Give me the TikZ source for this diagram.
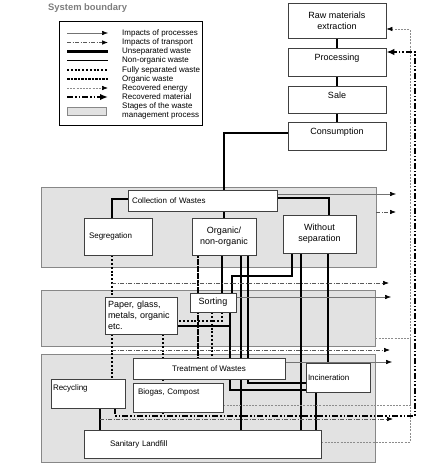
\documentclass[tikz,border=0pt]{standalone}
\usepackage{fontspec}
\setmainfont{Liberation Sans}
\usetikzlibrary{arrows.meta,positioning,calc}
\definecolor{stagefill}{RGB}{226,226,226}
\definecolor{stageline}{RGB}{135,135,135}
\definecolor{titlegray}{RGB}{125,125,125}
\pgfdeclarelayer{stagelayer}
\pgfdeclarelayer{flowlayer}
\pgfsetlayers{stagelayer,flowlayer,main}

\tikzset{
    box/.style={draw=black!75, line width=0.8pt, fill=white, inner sep=2pt, align=center, font=\fontsize{8}{9.5}\selectfont},
    leftbox/.style={box, align=left},
    nine/.style={font=\fontsize{9}{11}\selectfont},
    raised/.style={text height=6.5pt, text depth=9pt},
    toptext/.style={text height=5.8pt, text depth=11pt},
    stagebox/.style={draw=stageline, line width=0.7pt, fill=stagefill, inner sep=0pt},
    legendtext/.style={anchor=west, inner sep=0pt, align=left, font=\fontsize{8}{8.5}\selectfont},
    unsep/.style={line width=2.6pt},
    nonorg/.style={line width=1.9pt},
    fullsep/.style={line width=2pt, dash pattern=on 2pt off 1.8pt},
    organic/.style={line width=2pt, dash pattern=on 2.6pt off 0.9pt},
    procimp/.style={line width=0.5pt, draw=black!55, -{Latex[length=6pt,width=4.5pt,color=black]}},
    transimp/.style={line width=0.6pt, draw=black!65, dash pattern=on 4pt off 1.5pt on 1pt off 1.5pt, -{Latex[length=6pt,width=4.5pt,color=black]}},
    energyline/.style={line width=0.6pt, draw=black!45, dash pattern=on 2pt off 1.2pt},
    energy/.style={energyline, -{Latex[length=6pt,width=4.5pt,color=black]}},
    material/.style={line width=1.8pt, dash pattern=on 6pt off 2pt on 1.5pt off 2pt on 1.5pt off 2pt, -{Latex[length=8pt,width=6.5pt]}},
}

\begin{document}
\begin{tikzpicture}[x=1pt, y=-1pt]
    \useasboundingbox (0,0) rectangle (426,468);

    % Title and key
    \node[anchor=west, inner sep=0pt, text=titlegray, font=\fontsize{9.4}{11}\selectfont\bfseries] (title) at (48,8) {System boundary};
    \node[draw, line width=0.7pt, fill=white, minimum width=143pt, minimum height=104pt] (legend) at (130.5,73) {};
    \foreach \i/\y/\sty/\txt in {1/33/procimp/Impacts of processes, 2/42.5/transimp/Impacts of transport, 3/51.5/unsep/Unseparated waste, 4/60.5/nonorg/Non-organic waste, 5/70/fullsep/Fully separated waste, 6/79/organic/Organic waste, 7/88/energy/Recovered energy, 8/97/material/Recovered material} {
        \draw[\sty] (67,\y) -- (108,\y);
        \node[legendtext] (key\i) at (122,\y) {\txt};
    }
    \draw[stagebox] (67,107) rectangle (106,115);
    \node[legendtext] (key9) at (122,111) {Stages of the waste\\management process};

    % Stages of the waste management process
    \begin{pgfonlayer}{stagelayer}
        \node[stagebox, minimum width=335pt, minimum height=80pt] (stage1) at (208.5,227) {};
        \node[stagebox, minimum width=334pt, minimum height=56pt] (stage2) at (208,318) {};
        \node[stagebox, minimum width=334pt, minimum height=108pt] (stage3) at (208,408) {};
    \end{pgfonlayer}

    % Product chain
    \node[box, nine, minimum width=98pt, minimum height=35pt] (raw) at (337,20.5) {Raw materials\\extraction};
    \node[box, nine, raised, minimum width=98pt, minimum height=28pt] (proc) at (337,62) {Processing};
    \node[box, nine, raised, minimum width=98pt, minimum height=27pt] (sale) at (337,99.5) {Sale};
    \node[box, nine, raised, minimum width=98pt, minimum height=28pt] (cons) at (337,136) {Consumption};

    % Stage 1
    \node[leftbox, inner xsep=4pt, text width=141pt, minimum height=21pt] (coll) at (202.5,200.5) {Collection of Wastes};
    \node[leftbox, inner xsep=5pt, text width=58pt, minimum height=37pt] (seg) at (118,236.5) {Segregation};
    \node[box, nine, minimum width=64pt, minimum height=37pt] (org) at (224,236.5) {Organic/\\non-organic};
    \node[box, nine, minimum width=73pt, minimum height=38pt] (wsep) at (319.5,234) {Without\\separation};

    % Stage 2
    \node[leftbox, nine, inner xsep=3pt, text width=66pt, minimum height=37pt] (paper) at (141,315.5) {Paper, glass,\\metals, organic\\etc.};
    \node[box, nine, minimum width=46pt, minimum height=19pt] (sort) at (213,302.5) {Sorting};

    % Stage 3
    \node[box, minimum width=152pt, minimum height=21pt] (treat) at (209,368.5) {Treatment of Wastes};
    \node[leftbox, toptext, inner xsep=2pt, text width=70pt, minimum height=29pt] (recyc) at (88,393.5) {Recycling};
    \node[leftbox, toptext, inner xsep=5pt, text width=80pt, minimum height=29pt] (bio) at (178,397.5) {Biogas, Compost};
    \node[leftbox, inner xsep=2pt, text width=60pt, minimum height=29pt] (incin) at (338,377.5) {Incineration};
    \node[leftbox, inner xsep=26pt, text width=185pt, minimum height=28pt] (land) at (202.5,444) {Sanitary Landfill};

    % Free ends and bends
    \coordinate (imp1) at (396,194);
    \coordinate (tr1) at (396,212);
    \coordinate (tr2) at (389,283);
    \coordinate (imp2) at (391,297);
    \coordinate (tr3) at (390,350);
    \coordinate (imp3) at (392,362);
    \coordinate (tr4) at (393,419);
    \coordinate (enbase) at (410,405);
    \coordinate (matbase) at (415,416);
    \coordinate (wbend) at (232,276);

    \begin{pgfonlayer}{flowlayer}
        % Unseparated waste
        \foreach \a/\b in {raw/proc, proc/sale, sale/cons}
            \draw[unsep] (\a.south) -- (\b.north);
        \draw[unsep] ([yshift=3pt]cons.west) -| (org.north);
        \draw[unsep] ([yshift=1.5pt]coll.west) -| ([xshift=-6pt]seg.north);
        \draw[unsep] ([yshift=2.5pt]coll.east) -| ([xshift=9.5pt]wsep.north);
        \draw[unsep] ([xshift=-27.5pt]wsep.south) |- (wbend) -- (wbend |- sort.north);
        \draw[unsep] ([xshift=-18.5pt]wsep.south) -- ([xshift=-18.5pt]wsep.south |- land.north);
        \draw[unsep] ([xshift=8.5pt]wsep.south) -- ([xshift=8.5pt]wsep.south |- incin.north);

        % Non-organic waste
        \draw[nonorg] ([xshift=-2pt]org.south) -- ([xshift=-2pt]org.south |- sort.north);
        \draw[nonorg] ([xshift=17pt]org.south) -- ([xshift=17pt]org.south |- land.north);
        \draw[nonorg] ([xshift=24pt]org.south) |- ([yshift=-5.5pt]incin.west);
        \draw[nonorg] ([xshift=17pt]sort.south) |- ([yshift=-12.5pt]incin.west);
        \draw[nonorg] ([yshift=-10.5pt]paper.east) -| ([xshift=17pt]sort.south);
        \draw[nonorg] ([xshift=-22pt]incin.south) -- ([xshift=-22pt]incin.south |- land.north);
        \draw[nonorg] ([xshift=12pt]recyc.south) -- ([xshift=12pt]recyc.south |- land.north);

        % Fully separated and organic waste
        \draw[fullsep] ([xshift=-6pt]seg.south) -- ([xshift=-6pt]seg.south |- paper.north);
        \draw[fullsep] ([xshift=-29pt]paper.south) -- ([xshift=-29pt]paper.south |- recyc.north);
        \draw[fullsep] ([xshift=22pt]paper.south) -- ([xshift=22pt]paper.south |- treat.north);
        \draw[fullsep] ([xshift=-15pt]bio.north |- treat.south) -- ([xshift=-15pt]bio.north);
        \draw[fullsep] ([xshift=-15pt]bio.south) -- ([xshift=-15pt]bio.south |- matbase);
        \draw[fullsep] ([xshift=9pt]sort.south) |- ([yshift=-5.5pt]paper.east);
        \draw[fullsep] ([xshift=-1pt]sort.south) -- ([xshift=-1pt]sort.south |- treat.north);
        \draw[organic] ([xshift=-26pt]org.south) -- ([xshift=-26pt]org.south |- treat.north);

        % Impacts
        \draw[procimp] ([yshift=6.5pt]coll.east) -- (imp1);
        \draw[procimp] ([yshift=5.5pt]sort.east) -- (imp2);
        \draw[procimp] ([yshift=6.5pt]treat.east) -- (imp3);
        \draw[transimp] (stage1.east |- tr1) -- (tr1);
        \draw[transimp] ([xshift=-6pt]seg.south |- tr2) -- (tr2);
        \draw[transimp] ([xshift=-6pt]seg.south |- tr3) -- (tr3);
        \draw[transimp] ([xshift=12pt]recyc.south |- tr4) -- (tr4);

        % Recovered energy and material
        \draw[energyline] ([yshift=2pt]land.east) -| (enbase);
        \draw[energyline] ([yshift=-20pt]stage2.east) -| (enbase);
        \draw[energy] ([yshift=-7.5pt]bio.east) -- (enbase) |- ([yshift=-8.5pt]raw.east);
        \draw[material] ([xshift=27pt]recyc.south) |- (matbase) |- ([yshift=10pt]proc.east);
    \end{pgfonlayer}
\end{tikzpicture}
\end{document}
